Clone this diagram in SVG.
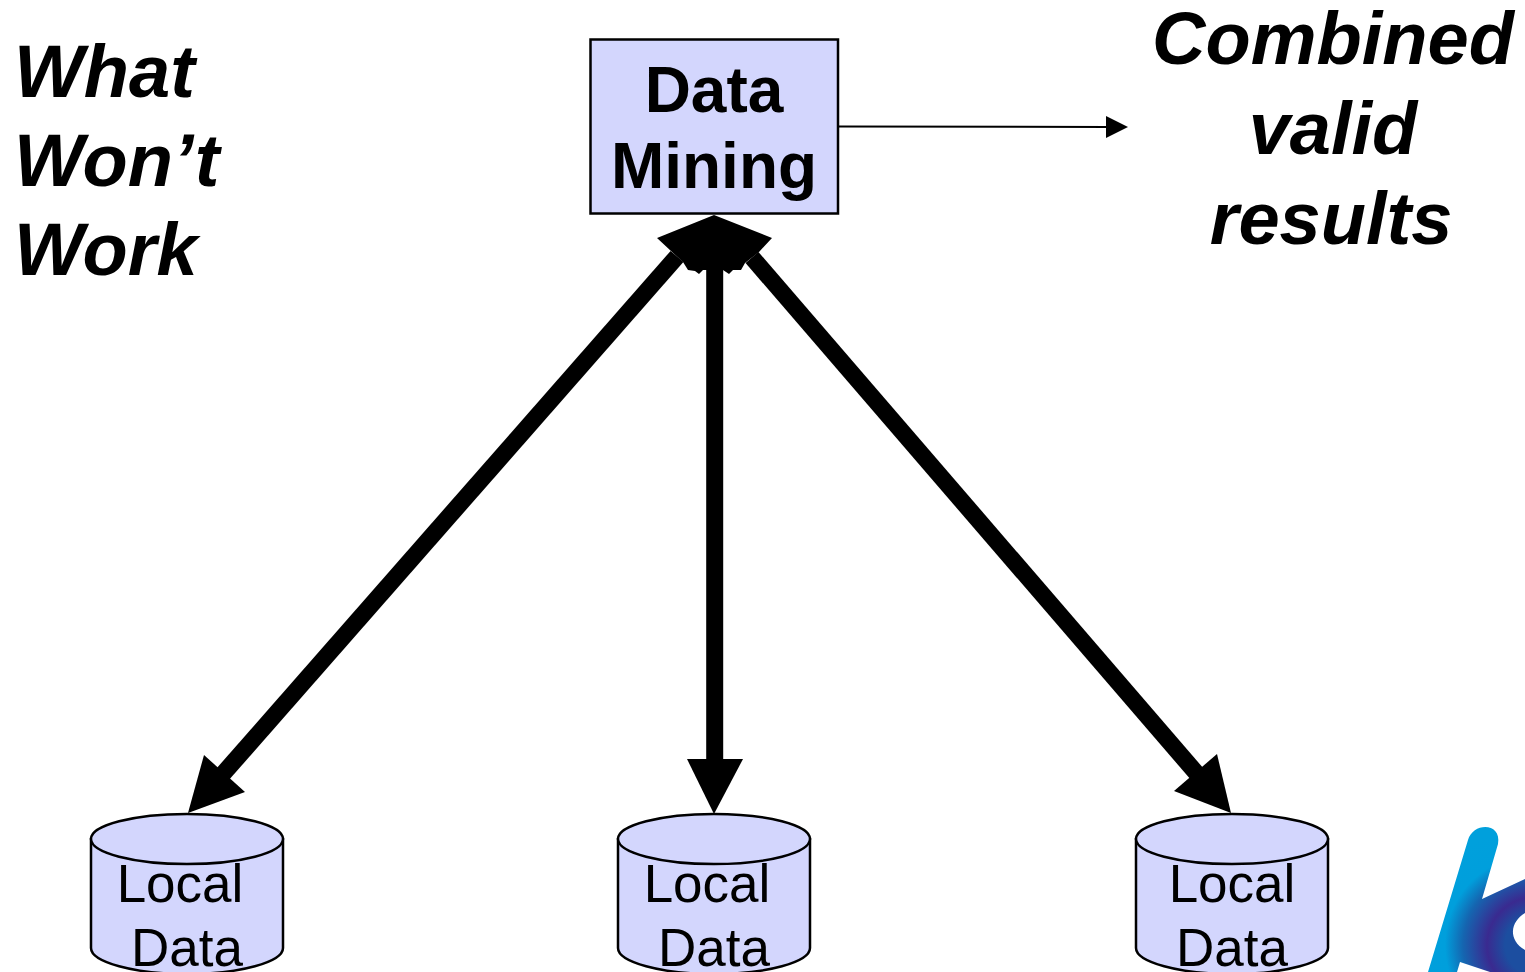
<svg xmlns="http://www.w3.org/2000/svg" width="1525" height="972" viewBox="0 0 1525 972">
<style>
text{font-family:"Liberation Sans",Arial,sans-serif;fill:#000}
.t{font-size:74px;font-weight:bold;font-style:italic}
.m{text-anchor:middle}
.b{font-size:64px;font-weight:bold;text-anchor:middle}
.l{font-size:53px;text-anchor:middle}
.f{fill:#d3d6fd;stroke:#000;stroke-width:2.500}
.c{stroke:#000;stroke-width:17;fill:none}
.h{fill:#000}
</style>
<defs>
<radialGradient id="g" gradientUnits="userSpaceOnUse" cx="1535" cy="945" r="120">
<stop offset=".25" stop-color="#1c4ea0"/><stop offset=".4" stop-color="#3a2a90"/><stop offset=".6" stop-color="#1565b0"/><stop offset=".75" stop-color="#009fdc"/><stop offset="1" stop-color="#00a0dc"/>
</radialGradient>
</defs>
<rect width="1525" height="972" fill="#fff"/>
<g id="connectors">
<path class="c" d="M677 256.500L215 783"/>
<path class="c" d="M714.700 262V762"/>
<path class="c" d="M752 257.500L1204 782"/>
<path class="h" d="M714 215L772 238L759 252L745 263L741 270L733 270L729 274L723 270H707L703 270L699 274L695 271L688 270L683 262L671 251L657 238Z"/>
<polygon class="h" points="188,813 204,755 245,792"/>
<polygon class="h" points="714,814 687,759 743,759"/>
<polygon class="h" points="1231,813 1174,791 1217,754"/>
<path d="M838 126.500L1108 127" stroke="#000" stroke-width="2" fill="none"/>
<polygon class="h" points="1128,127 1106,116 1106,138"/>
</g>
<g id="node-mining">
<rect class="f" x="590.500" y="39.500" width="247.500" height="174"/>
<text class="b" x="714" y="112">Data</text>
<text class="b" x="714" y="188">Mining</text>
</g>
<g id="title-left">
<text class="t" x="14" y="97">What</text>
<text class="t" x="14" y="186">Won’t</text>
<text class="t" x="14" y="275">Work</text>
</g>
<g id="title-right">
<text class="t m" x="1333" y="64">Combined</text>
<text class="t m" x="1333" y="154">valid</text>
<text class="t m" x="1331" y="244">results</text>
</g>
<g id="db-1">
<path class="f" d="M91 839V948C91 962 134 974 187 974S283 962 283 948V839Z"/>
<ellipse class="f" cx="187" cy="839" rx="96" ry="25"/>
<text class="l" x="180" y="902">Local</text>
<text class="l" x="187" y="966">Data</text>
</g>
<g id="db-2">
<path class="f" d="M618 839V948C618 962 661 974 714 974S810 962 810 948V839Z"/>
<ellipse class="f" cx="714" cy="839" rx="96" ry="25"/>
<text class="l" x="707" y="902">Local</text>
<text class="l" x="714" y="966">Data</text>
</g>
<g id="db-3">
<path class="f" d="M1136 839V948C1136 962 1179 974 1232 974S1328 962 1328 948V839Z"/>
<ellipse class="f" cx="1232" cy="839" rx="96" ry="25"/>
<text class="l" x="1232" y="902">Local</text>
<text class="l" x="1232" y="966">Data</text>
</g>
<g id="logo">
<path fill="url(#g)" d="M1468 840C1473 822 1502 822 1498 844L1482 899L1525 879V913C1510 922 1508 940 1525 950V972H1490L1460 962L1457 972H1428Z"/>
</g>
</svg>
